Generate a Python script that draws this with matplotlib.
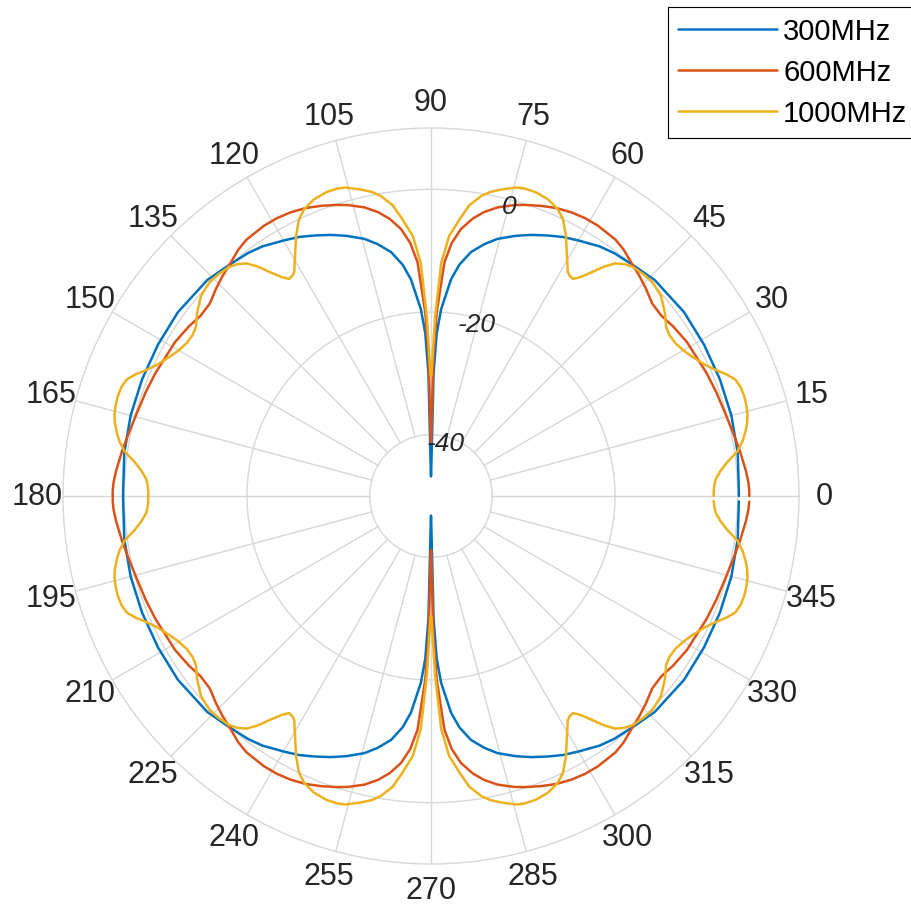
import numpy as np
import matplotlib
matplotlib.use('Agg')
import matplotlib.pyplot as plt

plt.rcParams['font.family'] = ['Liberation Sans', 'DejaVu Sans']

# ---------------- data (first quadrant 0..90 deg) -------------
# pattern is symmetric about the 0-180 and 90-270 axes
series_labels = ['300MHz', '600MHz', '1000MHz']
series_colors = ['#0072BD', '#D95319', '#EDB120']

ang_300 = [0, 1, 8, 15, 22, 29, 36, 44, 49, 53, 56, 60, 63, 66, 69, 72, 75.5, 78, 80.7,
           83, 84.7, 86.9, 88, 88.8, 89.8]
db_300 = [0.2, 0.2, 0.5, 0.7, 0.8, 0.9, 1.0, 0.7, 0.0, -0.4, -0.9, -1.9, -2.6, -3.5, -4.4,
          -5.4, -6.7, -8.0, -9.7, -12.0, -14.5, -19.5, -23.5, -30.0, -46.8]

ang_600 = [0, 1, 2.5, 4.6, 8.3, 12, 16, 20, 24, 31, 35, 38, 41, 44, 46.5, 49.4, 52, 54.3, 58.3,
           61, 63.7, 66.5, 69.2, 72, 74, 77, 79.4, 81.5, 83.6, 85.3, 86.7, 88.2, 89, 89.8]
db_600 = [1.9, 1.9, 1.8, 1.5, 0.9, 0.3, -0.2, -0.5, -0.8, -1.3, -1.8, -2.3, -2.2, -1.3, -0.6,
          0.15, 1.0, 1.5, 1.8, 1.8, 1.6, 1.2, 0.6, -0.1, -0.65, -1.7, -2.9, -4.3, -6.2, -8.6,
          -11.8, -20.0, -27.0, -41.2]

ang_1000 = [0, 1, 2, 3.4, 5, 6.5, 8.3, 10, 11.5, 13, 14.5, 16, 17.8, 19.5, 21, 22.5, 23.7,
            25.5, 28, 30, 32, 34, 35.7, 38, 41, 44, 46, 48.5, 50, 51.6, 53, 54.4, 55.7, 56.8,
            57.7, 58.6, 60.5, 62.6, 64.5, 66.2, 68.5, 71, 73, 74.5, 77, 79, 80.5, 82.5, 84,
            86, 87.5, 88.7, 89.8]
db_1000 = [-3.9, -3.9, -3.8, -3.5, -2.6, -1.4, 0.5, 1.6, 2.3, 2.9, 3.3, 3.5, 3.6, 3.5, 3.1,
           2.0, 0.9, -0.4, -1.7, -2.5, -3.0, -3.1, -2.8, -1.6, -0.3, 0.2, 0.1, -0.2, -0.7,
           -1.6, -3.2, -5.2, -6.8, -7.7, -7.6, -7.2, -5.0, -2.2, 0.0, 1.15, 2.0, 2.4, 2.4,
           2.2, 1.3, 0.5, -0.4, -2.2, -4.5, -7.5, -12.0, -21.0, -30.4]

theta_ticks = list(range(0, 360, 15))
theta_labels = [str(a) for a in theta_ticks]
r_ticks = [-40, -20, 0]
r_limits = (-50, 10)


def full_circle(ang, val):
    a = np.asarray(ang, float)
    v = np.asarray(val, float)
    a_all = np.concatenate([a, 180 - a[::-1], 180 + a, 360 - a[::-1]])
    v_all = np.concatenate([v, v[::-1], v, v[::-1]])
    keep = a_all < 360
    return np.deg2rad(a_all[keep]), v_all[keep]


# ---------------- figure ----------------
W, H = 911, 912
fig = plt.figure(figsize=(W / 100, H / 100), dpi=100)
cx, cy, R = 431, 497, 368
ax = fig.add_axes([(cx - R) / W, (H - cy - R) / H, 2 * R / W, 2 * R / H], projection='polar')

grid_c = '#d7d7d7'

# spokes start at the innermost ring
for a in theta_ticks:
    ax.plot([np.deg2rad(a)] * 2, [r_ticks[0], r_limits[1]], color=grid_c, lw=1.0, zorder=1)

lines = []
for ang, db, lab, col in zip([ang_300, ang_600, ang_1000], [db_300, db_600, db_1000],
                             series_labels, series_colors):
    th, r = full_circle(ang, db)
    ln, = ax.plot(th, r, color=col, lw=1.8, label=lab, zorder=3,
                  solid_joinstyle='round', solid_capstyle='round')
    lines.append(ln)

ax.set_rlim(*r_limits)
ax.set_rticks(r_ticks)
ax.set_yticklabels([])
ax.set_thetagrids(theta_ticks, theta_labels)
ax.xaxis.grid(False)
ax.yaxis.grid(True, color=grid_c, lw=1.0)
ax.spines['polar'].set_color(grid_c)
ax.spines['polar'].set_linewidth(1.0)
ax.tick_params(axis='x', labelsize=22, pad=8, colors='#262626')
for t in ax.get_xticklabels():
    t.set_color('#262626')

for v in r_ticks:
    ax.text(np.deg2rad(75), v - 1, str(v), ha='center', va='center', fontsize=19,
            style='italic', color='#262626', zorder=4)

leg = fig.legend(lines, series_labels, loc='upper left', bbox_to_anchor=(668 / W, 1 - 8 / H),
                 fontsize=21, frameon=True, fancybox=False, framealpha=1, edgecolor='black',
                 borderaxespad=0, borderpad=0.35, handlelength=3.4, handletextpad=0.2,
                 labelspacing=0.45)
leg.get_frame().set_linewidth(0.8)

fig.savefig('out.png', dpi=100)
